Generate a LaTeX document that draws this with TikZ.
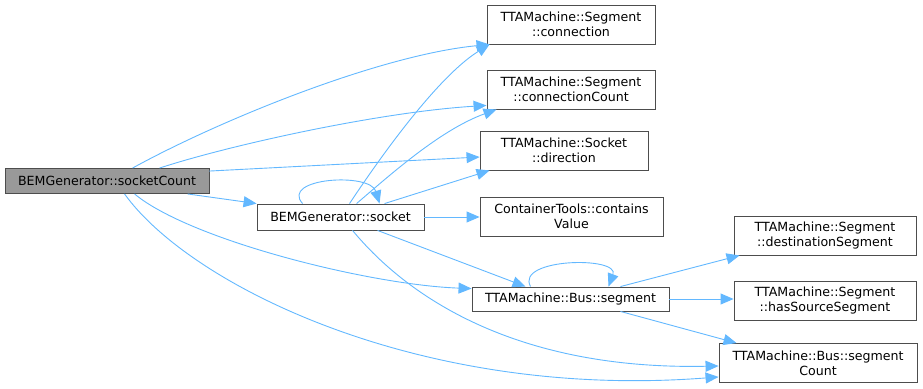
\documentclass[tikz,border=0pt]{standalone}
\usepackage{fontspec}
\setmainfont{DejaVu Sans}
\usetikzlibrary{arrows.meta}

\definecolor{edgeblue}{HTML}{63B8FF}
\definecolor{boxline}{HTML}{4D4D4D}
\definecolor{curfill}{HTML}{999999}

\tikzset{
  fn/.style={draw=boxline, fill=white, line width=0.9pt, align=center,
    inner sep=0pt, font=\fontsize{12.6}{15}\selectfont},
  cur/.style={fn, fill=curfill},
  call/.style={draw=edgeblue, line width=0.9pt,
    -{Triangle[length=13pt,width=11pt,fill=edgeblue]}},
}

\begin{document}
\begin{tikzpicture}[x=1pt,y=-1pt]
\useasboundingbox (0,0) rectangle (923,388);

% functions
\node[cur, minimum width=204, minimum height=25] (sc) at (107,181) {BEMGenerator::socketCount};
\node[fn, minimum width=167, minimum height=26] (sock) at (340.5,217) {BEMGenerator::socket};
\node[fn, minimum width=168, minimum height=39] (conn) at (571,24.5) {TTAMachine::Segment\\::connection};
\node[fn, minimum width=168, minimum height=39] (conncnt) at (571,89.5) {TTAMachine::Segment\\::connectionCount};
\node[fn, minimum width=168, minimum height=39] (dir) at (564,150.5) {TTAMachine::Socket\\::direction};
\node[fn, minimum width=183, minimum height=39] (contains) at (571.5,216.5) {ContainerTools::contains\\Value};
\node[fn, minimum width=197, minimum height=24] (seg) at (570.5,299) {TTAMachine::Bus::segment};
\node[fn, minimum width=182, minimum height=39] (dest) at (825,235.5) {TTAMachine::Segment\\::destinationSegment};
\node[fn, minimum width=182, minimum height=39] (hassrc) at (825,300.5) {TTAMachine::Segment\\::hasSourceSegment};
\node[fn, minimum width=198, minimum height=39] (segcnt) at (818,363) {TTAMachine::Bus::segment\\Count};

% calls of socketCount
\draw[call] ([xshift=128]sc.north west) .. controls (220,120) and (380,55) .. ([xshift=3]conn.south west);
\draw[call] ([xshift=155]sc.north west) .. controls (230,145) and (380,112) .. ([yshift=4]conncnt.south west);
\draw[call] ([yshift=-3]sc.north east) -- ([yshift=-6.5]dir.west);
\draw[call] ([xshift=183]sc.south west) -- (sock.north west);
\draw[call] ([xshift=130]sc.south west) .. controls (190,240) and (370,285) .. ([yshift=-2]seg.north west);
\draw[call] ([xshift=120]sc.south west) .. controls (190,285) and (420,400) .. ([yshift=6]segcnt.south west);

% calls of socket
\draw[call] ([xshift=46]sock.north west) .. controls (280,178) and (370,172) .. ([xshift=123]sock.north west);
\draw[call] ([xshift=93]sock.north west) .. controls (385,150) and (440,75) .. ([xshift=3]conn.south west);
\draw[call] ([xshift=100]sock.north west) .. controls (390,175) and (440,130) .. ([xshift=10]conncnt.south west);
\draw[call] ([xshift=128]sock.north west) -- ([xshift=10]dir.south west);
\draw[call] (sock.east) -- (sock.east -| contains.west);
\draw[call] ([xshift=121]sock.south west) -- ([xshift=-45]seg.north);
\draw[call] ([xshift=96]sock.south west) .. controls (410,300) and (520,370) .. ([yshift=-3]segcnt.west);

% calls of Bus::segment
\draw[call] ([xshift=-40]seg.north) .. controls (515,258) and (620,256) .. ([xshift=38]seg.north);
\draw[call] ([xshift=50]seg.north) -- ([xshift=6]dest.south west);
\draw[call] (seg.east) -- (seg.east -| hassrc.west);
\draw[call] ([xshift=50]seg.south) -- ([xshift=18]segcnt.north west);

\end{tikzpicture}
\end{document}
